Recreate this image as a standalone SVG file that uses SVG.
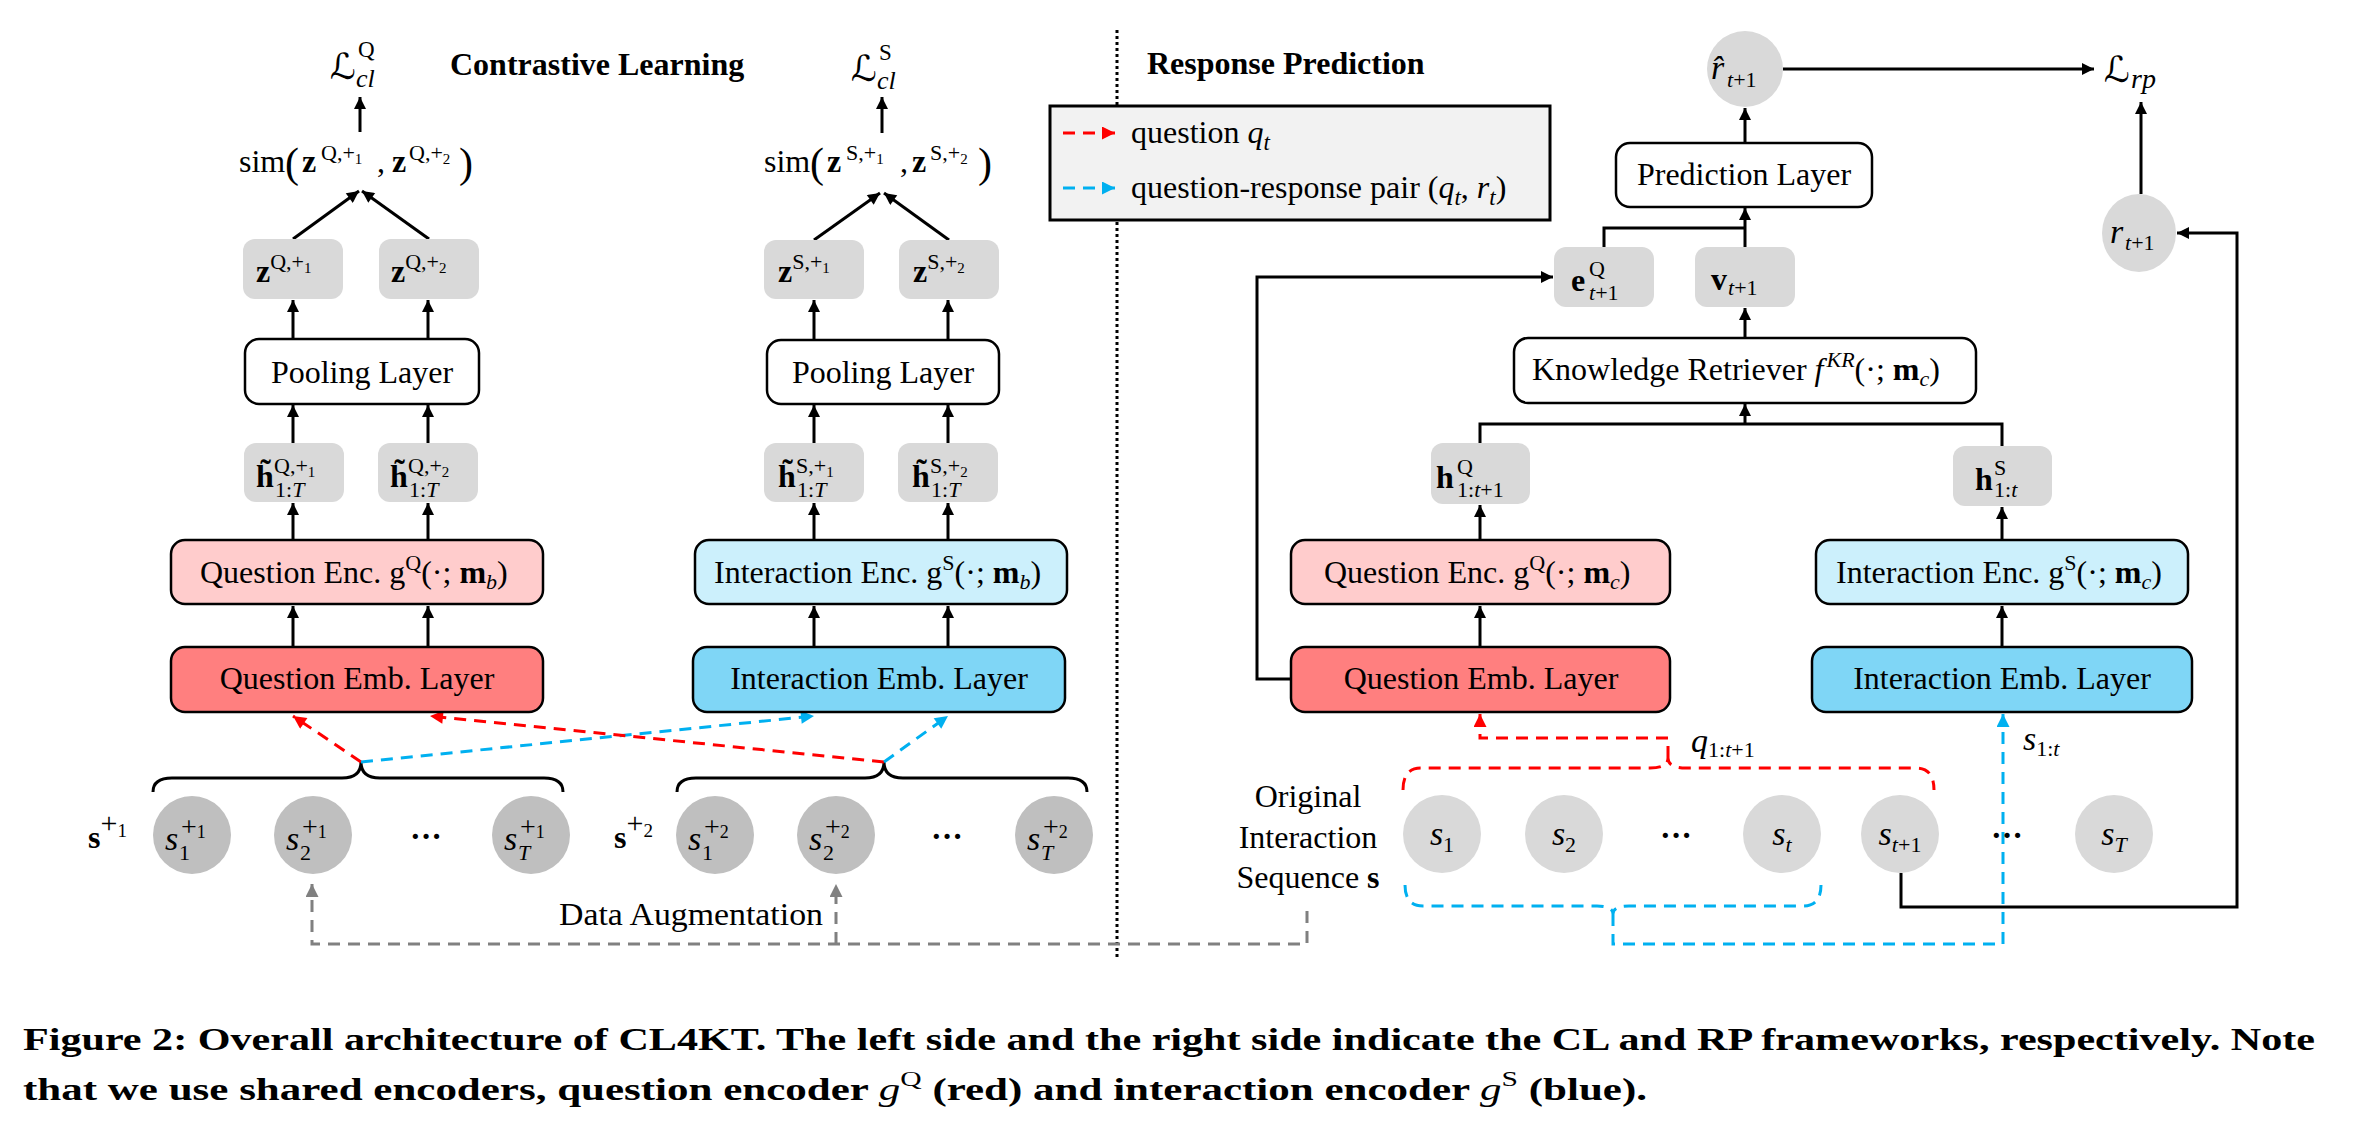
<svg xmlns="http://www.w3.org/2000/svg" width="2380" height="1144" viewBox="0 0 2380 1144">
<defs>
<style>
.t{font-family:"Liberation Serif",serif;font-size:32px;fill:#000}
.m{font-family:"Liberation Serif",serif;font-size:32px;fill:#000}
.i{font-style:italic}
.b{font-weight:bold}
.L{font-family:"DejaVu Serif","DejaVu Sans",serif;font-style:italic;font-size:36px}
.box{stroke:#000;stroke-width:2.5}
.gb{fill:#D9D9D9}
.ln{stroke:#000;stroke-width:3;fill:none}
.rd{stroke:#FF0000;stroke-width:3;fill:none;stroke-dasharray:12 8}
.bd{stroke:#00B0F0;stroke-width:3;fill:none;stroke-dasharray:12 8}
.gd{stroke:#808080;stroke-width:3;fill:none;stroke-dasharray:12 8}
.cl{fill:#BFBFBF}
.cr{fill:#D9D9D9}
</style>
<marker id="ak" viewBox="0 0 10 10" refX="10" refY="5" markerWidth="13" markerHeight="12" markerUnits="userSpaceOnUse" orient="auto"><path d="M0,0 L10,5 L0,10 z" fill="#000"/></marker>
<marker id="ar" viewBox="0 0 10 10" refX="10" refY="5" markerWidth="14" markerHeight="13" markerUnits="userSpaceOnUse" orient="auto"><path d="M0,0 L10,5 L0,10 z" fill="#FF0000"/></marker>
<marker id="ab" viewBox="0 0 10 10" refX="10" refY="5" markerWidth="14" markerHeight="13" markerUnits="userSpaceOnUse" orient="auto"><path d="M0,0 L10,5 L0,10 z" fill="#00B0F0"/></marker>
<marker id="ag" viewBox="0 0 10 10" refX="10" refY="5" markerWidth="14" markerHeight="13" markerUnits="userSpaceOnUse" orient="auto"><path d="M0,0 L10,5 L0,10 z" fill="#808080"/></marker>
</defs>
<rect width="2380" height="1144" fill="#fff"/>

<!-- separator -->
<line x1="1117" y1="30" x2="1117" y2="958" stroke="#000" stroke-width="3" stroke-dasharray="3 3"/>

<!-- headings -->
<text x="450" y="75" class="t b" font-size="37">Contrastive Learning</text>
<text x="1147" y="74" class="t b" font-size="37">Response Prediction</text>

<g id="connectors">
  <!-- CL Q column -->
  <path class="ln" d="M293,647 V606" marker-end="url(#ak)"/>
  <path class="ln" d="M428,647 V606" marker-end="url(#ak)"/>
  <path class="ln" d="M293,540 V503" marker-end="url(#ak)"/>
  <path class="ln" d="M428,540 V503" marker-end="url(#ak)"/>
  <path class="ln" d="M293,443 V405" marker-end="url(#ak)"/>
  <path class="ln" d="M428,443 V405" marker-end="url(#ak)"/>
  <path class="ln" d="M293,339 V300" marker-end="url(#ak)"/>
  <path class="ln" d="M428,339 V300" marker-end="url(#ak)"/>
  <path class="ln" d="M293,239 L359,191" marker-end="url(#ak)"/>
  <path class="ln" d="M429,239 L362,191" marker-end="url(#ak)"/>
  <path class="ln" d="M360,132 V97" marker-end="url(#ak)"/>
  <!-- CL S column -->
  <path class="ln" d="M814,647 V606" marker-end="url(#ak)"/>
  <path class="ln" d="M948,647 V606" marker-end="url(#ak)"/>
  <path class="ln" d="M814,540 V503" marker-end="url(#ak)"/>
  <path class="ln" d="M948,540 V503" marker-end="url(#ak)"/>
  <path class="ln" d="M814,443 V405" marker-end="url(#ak)"/>
  <path class="ln" d="M948,443 V405" marker-end="url(#ak)"/>
  <path class="ln" d="M814,340 V300" marker-end="url(#ak)"/>
  <path class="ln" d="M948,340 V300" marker-end="url(#ak)"/>
  <path class="ln" d="M814,240 L880,193" marker-end="url(#ak)"/>
  <path class="ln" d="M949,240 L884,193" marker-end="url(#ak)"/>
  <path class="ln" d="M882,133 V97" marker-end="url(#ak)"/>
  <!-- braces -->
  <path class="ln" d="M153,792 Q153,778 172,778 L342,778 Q361,778 361,762 Q361,778 380,778 L544,778 Q563,778 563,792"/>
  <path class="ln" d="M677,792 Q677,778 696,778 L865,778 Q884,778 884,762 Q884,778 903,778 L1068,778 Q1087,778 1087,792"/>
  <!-- CL dashed -->
  <path class="rd" d="M361,762 L293,716" marker-end="url(#ar)"/>
  <path class="bd" d="M361,762 L814,716" marker-end="url(#ab)"/>
  <path class="rd" d="M884,762 L430,716" marker-end="url(#ar)"/>
  <path class="bd" d="M884,762 L948,716" marker-end="url(#ab)"/>
  <!-- data augmentation -->
  <path class="gd" d="M1307,911 V944 H312 V884" marker-end="url(#ag)"/>
  <path class="gd" d="M836,944 V884" marker-end="url(#ag)"/>
  <!-- RP -->
  <path class="ln" d="M1480,647 V606" marker-end="url(#ak)"/>
  <path class="ln" d="M1480,540 V505" marker-end="url(#ak)"/>
  <path class="ln" d="M2002,647 V606" marker-end="url(#ak)"/>
  <path class="ln" d="M2002,540 V507" marker-end="url(#ak)"/>
  <path class="ln" d="M1480,443 V424 H2002 V446"/>
  <path class="ln" d="M1745,424 V404" marker-end="url(#ak)"/>
  <path class="ln" d="M1745,338 V308" marker-end="url(#ak)"/>
  <path class="ln" d="M1604,247 V228 H1745"/>
  <path class="ln" d="M1745,247 V208" marker-end="url(#ak)"/>
  <path class="ln" d="M1745,143 V108" marker-end="url(#ak)"/>
  <path class="ln" d="M1783,69 H2094" marker-end="url(#ak)"/>
  <path class="ln" d="M2141,194 V102" marker-end="url(#ak)"/>
  <path class="ln" d="M1901,873 V907 H2237 V233 H2177" marker-end="url(#ak)"/>
  <path class="ln" d="M1291,679 H1257 V277 H1553" marker-end="url(#ak)"/>
  <!-- RP dashed -->
  <path class="rd" d="M1403,790 Q1403,768 1421,768 L1650,768 Q1668,768 1668,758 Q1668,768 1686,768 L1916,768 Q1934,768 1934,790"/>
  <path class="rd" d="M1668,758 V738 H1480 V714" marker-end="url(#ar)"/>
  <path class="bd" d="M1405,885 Q1405,906 1423,906 L1597,906 Q1613,906 1613,914 Q1613,906 1629,906 L1803,906 Q1821,906 1821,885"/>
  <path class="bd" d="M1613,914 V944 H2003 V714" marker-end="url(#ab)"/>
</g>

<!-- legend -->
<g id="legend">
  <rect x="1050" y="106" width="500" height="114" fill="#F2F2F2" stroke="#000" stroke-width="3"/>
  <path class="rd" d="M1063,133 H1115" stroke-dasharray="10 7" marker-end="url(#ar)"/>
  <path class="bd" d="M1063,188 H1115" stroke-dasharray="10 7" marker-end="url(#ab)"/>
  <text x="1131" y="143" class="t" font-size="33">question <tspan class="i">q</tspan><tspan class="i" font-size="23" dy="7">t</tspan></text>
  <text x="1131" y="198" class="t" font-size="33">question-response pair (<tspan class="i">q</tspan><tspan class="i" font-size="23" dy="7">t</tspan><tspan dy="-7">, </tspan><tspan class="i">r</tspan><tspan class="i" font-size="23" dy="7">t</tspan><tspan dy="-7">)</tspan></text>
</g>

<!-- CL Q column nodes -->
<g id="loss-cl-q">
  <text class="m"><tspan x="330" y="79" class="L">ℒ</tspan><tspan x="356" y="87" class="i" font-size="26">cl</tspan><tspan x="358" y="57" font-size="23">Q</tspan></text>
</g>
<g id="sim-q">
  <text class="m"><tspan x="239" y="172">sim</tspan><tspan x="285" y="177" font-size="42">(</tspan><tspan x="302" y="172" class="b">z</tspan><tspan x="321" y="160" font-size="22">Q,+</tspan><tspan font-size="15" dy="4">1</tspan><tspan x="377" y="172">,</tspan><tspan x="392" y="172" class="b">z</tspan><tspan x="409" y="160" font-size="22">Q,+</tspan><tspan font-size="15" dy="4">2</tspan><tspan x="459" y="177" font-size="42">)</tspan></text>
</g>
<g id="z-q1">
  <rect x="243" y="239" width="100" height="60" rx="12" class="gb"/>
  <text x="256" y="282" class="m"><tspan class="b">z</tspan><tspan font-size="22" dy="-13">Q,+</tspan><tspan font-size="15" dy="4">1</tspan></text>
</g>
<g id="z-q2">
  <rect x="379" y="239" width="100" height="60" rx="12" class="gb"/>
  <text x="391" y="282" class="m"><tspan class="b">z</tspan><tspan font-size="22" dy="-13">Q,+</tspan><tspan font-size="15" dy="4">2</tspan></text>
</g>
<g id="pool-q">
  <rect x="245" y="339" width="234" height="65" rx="14" fill="#fff" class="box"/>
  <text x="362" y="383" class="t" text-anchor="middle">Pooling Layer</text>
</g>
<g id="h-q1">
  <rect x="244" y="443" width="100" height="59" rx="12" class="gb"/>
  <text class="m"><tspan x="256" y="487" class="b">h̃</tspan><tspan x="274" y="473" font-size="22">Q,+</tspan><tspan font-size="15" dy="4">1</tspan><tspan x="275" y="497" font-size="22">1:</tspan><tspan class="i" font-size="22">T</tspan></text>
</g>
<g id="h-q2">
  <rect x="378" y="443" width="100" height="59" rx="12" class="gb"/>
  <text class="m"><tspan x="390" y="487" class="b">h̃</tspan><tspan x="408" y="473" font-size="22">Q,+</tspan><tspan font-size="15" dy="4">2</tspan><tspan x="409" y="497" font-size="22">1:</tspan><tspan class="i" font-size="22">T</tspan></text>
</g>
<g id="qenc-cl">
  <rect x="171" y="540" width="372" height="64" rx="14" fill="#FFCCCC" class="box"/>
  <text x="200" y="583" class="t">Question Enc. g<tspan font-size="22" dy="-13">Q</tspan><tspan dy="13">(·; </tspan><tspan class="b">m</tspan><tspan class="i" font-size="22" dy="6">b</tspan><tspan dy="-6">)</tspan></text>
</g>
<g id="qemb-cl">
  <rect x="171" y="647" width="372" height="65" rx="14" fill="#FF7F7F" class="box"/>
  <text x="357" y="689" class="t" text-anchor="middle">Question Emb. Layer</text>
</g>

<!-- CL S column nodes -->
<g id="loss-cl-s">
  <text class="m"><tspan x="851" y="81" class="L">ℒ</tspan><tspan x="877" y="89" class="i" font-size="26">cl</tspan><tspan x="879" y="60" font-size="23">S</tspan></text>
</g>
<g id="sim-s">
  <text class="m"><tspan x="764" y="172">sim</tspan><tspan x="810" y="177" font-size="42">(</tspan><tspan x="827" y="172" class="b">z</tspan><tspan x="846" y="160" font-size="22">S,+</tspan><tspan font-size="15" dy="4">1</tspan><tspan x="900" y="172">,</tspan><tspan x="912" y="172" class="b">z</tspan><tspan x="930" y="160" font-size="22">S,+</tspan><tspan font-size="15" dy="4">2</tspan><tspan x="978" y="177" font-size="42">)</tspan></text>
</g>
<g id="z-s1">
  <rect x="764" y="240" width="100" height="59" rx="12" class="gb"/>
  <text x="778" y="282" class="m"><tspan class="b">z</tspan><tspan font-size="22" dy="-13">S,+</tspan><tspan font-size="15" dy="4">1</tspan></text>
</g>
<g id="z-s2">
  <rect x="899" y="240" width="100" height="59" rx="12" class="gb"/>
  <text x="913" y="282" class="m"><tspan class="b">z</tspan><tspan font-size="22" dy="-13">S,+</tspan><tspan font-size="15" dy="4">2</tspan></text>
</g>
<g id="pool-s">
  <rect x="767" y="340" width="232" height="64" rx="14" fill="#fff" class="box"/>
  <text x="883" y="383" class="t" text-anchor="middle">Pooling Layer</text>
</g>
<g id="h-s1">
  <rect x="764" y="443" width="100" height="59" rx="12" class="gb"/>
  <text class="m"><tspan x="778" y="487" class="b">h̃</tspan><tspan x="796" y="473" font-size="22">S,+</tspan><tspan font-size="15" dy="4">1</tspan><tspan x="797" y="497" font-size="22">1:</tspan><tspan class="i" font-size="22">T</tspan></text>
</g>
<g id="h-s2">
  <rect x="898" y="443" width="100" height="59" rx="12" class="gb"/>
  <text class="m"><tspan x="912" y="487" class="b">h̃</tspan><tspan x="930" y="473" font-size="22">S,+</tspan><tspan font-size="15" dy="4">2</tspan><tspan x="931" y="497" font-size="22">1:</tspan><tspan class="i" font-size="22">T</tspan></text>
</g>
<g id="ienc-cl">
  <rect x="695" y="540" width="372" height="64" rx="14" fill="#CCF0FC" class="box"/>
  <text x="714" y="583" class="t">Interaction Enc. g<tspan font-size="22" dy="-13">S</tspan><tspan dy="13">(·; </tspan><tspan class="b">m</tspan><tspan class="i" font-size="22" dy="6">b</tspan><tspan dy="-6">)</tspan></text>
</g>
<g id="iemb-cl">
  <rect x="693" y="647" width="372" height="65" rx="14" fill="#7FD6F6" class="box"/>
  <text x="879" y="689" class="t" text-anchor="middle">Interaction Emb. Layer</text>
</g>

<!-- augmented sequences -->
<g id="seq-aug1">
  <text x="88" y="848" class="t b" font-size="36">s<tspan font-weight="normal" font-size="30" dy="-15">+</tspan><tspan font-weight="normal" font-size="19" dy="4">1</tspan></text>
  <circle cx="192" cy="835" r="39" class="cl"/>
  <circle cx="313" cy="835" r="39" class="cl"/>
  <circle cx="531" cy="835" r="39" class="cl"/>
  <text class="m"><tspan x="165" y="850" class="i" font-size="34">s</tspan><tspan x="179" y="860" font-size="22">1</tspan><tspan x="181" y="836" font-size="28">+</tspan><tspan font-size="18" dy="2">1</tspan></text>
  <text class="m"><tspan x="286" y="850" class="i" font-size="34">s</tspan><tspan x="300" y="860" font-size="22">2</tspan><tspan x="302" y="836" font-size="28">+</tspan><tspan font-size="18" dy="2">1</tspan></text>
  <text class="m"><tspan x="504" y="850" class="i" font-size="34">s</tspan><tspan x="518" y="860" font-size="22" class="i">T</tspan><tspan x="520" y="836" font-size="28">+</tspan><tspan font-size="18" dy="2">1</tspan></text>
  <text x="426" y="847" class="t b" text-anchor="middle">···</text>
</g>
<g id="seq-aug2">
  <text x="614" y="848" class="t b" font-size="36">s<tspan font-weight="normal" font-size="30" dy="-15">+</tspan><tspan font-weight="normal" font-size="19" dy="4">2</tspan></text>
  <circle cx="715" cy="835" r="39" class="cl"/>
  <circle cx="836" cy="835" r="39" class="cl"/>
  <circle cx="1054" cy="835" r="39" class="cl"/>
  <text class="m"><tspan x="688" y="850" class="i" font-size="34">s</tspan><tspan x="702" y="860" font-size="22">1</tspan><tspan x="704" y="836" font-size="28">+</tspan><tspan font-size="18" dy="2">2</tspan></text>
  <text class="m"><tspan x="809" y="850" class="i" font-size="34">s</tspan><tspan x="823" y="860" font-size="22">2</tspan><tspan x="825" y="836" font-size="28">+</tspan><tspan font-size="18" dy="2">2</tspan></text>
  <text class="m"><tspan x="1027" y="850" class="i" font-size="34">s</tspan><tspan x="1041" y="860" font-size="22" class="i">T</tspan><tspan x="1043" y="836" font-size="28">+</tspan><tspan font-size="18" dy="2">2</tspan></text>
  <text x="947" y="847" class="t b" text-anchor="middle">···</text>
</g>
<g id="data-aug">
  <text x="559" y="925" class="t" textLength="264" lengthAdjust="spacingAndGlyphs">Data Augmentation</text>
</g>

<!-- RP nodes -->
<g id="orig-seq">
  <text x="1308" y="807" class="t" text-anchor="middle">Original</text>
  <text x="1308" y="848" class="t" text-anchor="middle">Interaction</text>
  <text x="1308" y="888" class="t" text-anchor="middle">Sequence <tspan class="b">s</tspan></text>
  <circle cx="1442" cy="834" r="39" class="cr"/>
  <circle cx="1564" cy="834" r="39" class="cr"/>
  <circle cx="1782" cy="834" r="39" class="cr"/>
  <circle cx="1900" cy="834" r="39" class="cr"/>
  <circle cx="2114" cy="834" r="39" class="cr"/>
  <text x="1442" y="845" class="m" text-anchor="middle"><tspan class="i" font-size="34">s</tspan><tspan font-size="22" dy="7">1</tspan></text>
  <text x="1564" y="845" class="m" text-anchor="middle"><tspan class="i" font-size="34">s</tspan><tspan font-size="22" dy="7">2</tspan></text>
  <text x="1782" y="845" class="m" text-anchor="middle"><tspan class="i" font-size="34">s</tspan><tspan font-size="22" dy="7" class="i">t</tspan></text>
  <text x="1900" y="845" class="m" text-anchor="middle"><tspan class="i" font-size="34">s</tspan><tspan font-size="22" dy="7" class="i">t</tspan><tspan font-size="22">+1</tspan></text>
  <text x="2114" y="845" class="m" text-anchor="middle"><tspan class="i" font-size="34">s</tspan><tspan font-size="22" dy="7" class="i">T</tspan></text>
  <text x="1676" y="846" class="t b" text-anchor="middle">···</text>
  <text x="2007" y="846" class="t b" text-anchor="middle">···</text>
</g>
<g id="q-label">
  <text x="1691" y="752" class="m"><tspan class="i" font-size="34">q</tspan><tspan font-size="22" dy="5">1:</tspan><tspan font-size="22" class="i">t</tspan><tspan font-size="22">+1</tspan></text>
</g>
<g id="s-label">
  <text x="2023" y="750" class="m"><tspan class="i" font-size="34">s</tspan><tspan font-size="22" dy="6">1:</tspan><tspan font-size="22" class="i">t</tspan></text>
</g>
<g id="qemb-rp">
  <rect x="1291" y="647" width="379" height="65" rx="14" fill="#FF7F7F" class="box"/>
  <text x="1481" y="689" class="t" text-anchor="middle">Question Emb. Layer</text>
</g>
<g id="qenc-rp">
  <rect x="1291" y="540" width="379" height="64" rx="14" fill="#FFCCCC" class="box"/>
  <text x="1324" y="583" class="t">Question Enc. g<tspan font-size="22" dy="-13">Q</tspan><tspan dy="13">(·; </tspan><tspan class="b">m</tspan><tspan class="i" font-size="22" dy="6">c</tspan><tspan dy="-6">)</tspan></text>
</g>
<g id="iemb-rp">
  <rect x="1812" y="647" width="380" height="65" rx="14" fill="#7FD6F6" class="box"/>
  <text x="2002" y="689" class="t" text-anchor="middle">Interaction Emb. Layer</text>
</g>
<g id="ienc-rp">
  <rect x="1816" y="540" width="372" height="64" rx="14" fill="#CCF0FC" class="box"/>
  <text x="1836" y="583" class="t">Interaction Enc. g<tspan font-size="22" dy="-13">S</tspan><tspan dy="13">(·; </tspan><tspan class="b">m</tspan><tspan class="i" font-size="22" dy="6">c</tspan><tspan dy="-6">)</tspan></text>
</g>
<g id="hq-rp">
  <rect x="1431" y="443" width="99" height="61" rx="12" class="gb"/>
  <text class="m"><tspan x="1436" y="488" class="b">h</tspan><tspan x="1457" y="474" font-size="22">Q</tspan><tspan x="1457" y="497" font-size="22">1:</tspan><tspan font-size="22" class="i">t</tspan><tspan font-size="22">+1</tspan></text>
</g>
<g id="hs-rp">
  <rect x="1953" y="446" width="99" height="60" rx="12" class="gb"/>
  <text class="m"><tspan x="1975" y="490" class="b">h</tspan><tspan x="1994" y="475" font-size="22">S</tspan><tspan x="1994" y="497" font-size="22">1:</tspan><tspan font-size="22" class="i">t</tspan></text>
</g>
<g id="kr">
  <rect x="1514" y="338" width="462" height="65" rx="14" fill="#fff" class="box"/>
  <text x="1532" y="380" class="t">Knowledge Retriever <tspan class="i">f</tspan><tspan class="i" font-size="22" dy="-13" dx="3">KR</tspan><tspan dy="13">(·; </tspan><tspan class="b">m</tspan><tspan class="i" font-size="22" dy="6">c</tspan><tspan dy="-6">)</tspan></text>
</g>
<g id="e-box">
  <rect x="1554" y="247" width="100" height="60" rx="12" class="gb"/>
  <text class="m"><tspan x="1571" y="291" class="b">e</tspan><tspan x="1589" y="276" font-size="22">Q</tspan><tspan x="1589" y="300" font-size="22" class="i">t</tspan><tspan font-size="22">+1</tspan></text>
</g>
<g id="v-box">
  <rect x="1695" y="247" width="100" height="60" rx="12" class="gb"/>
  <text class="m"><tspan x="1711" y="290" class="b">v</tspan><tspan x="1728" y="295" font-size="22" class="i">t</tspan><tspan font-size="22">+1</tspan></text>
</g>
<g id="pred">
  <rect x="1616" y="143" width="256" height="64" rx="14" fill="#fff" class="box"/>
  <text x="1744" y="185" class="t" text-anchor="middle">Prediction Layer</text>
</g>
<g id="rhat">
  <circle cx="1745" cy="69" r="38" class="cr"/>
  <text class="m"><tspan x="1711" y="79" class="i" font-size="34">r̂</tspan><tspan x="1727" y="87" font-size="22" class="i">t</tspan><tspan font-size="22">+1</tspan></text>
</g>
<g id="r-true">
  <ellipse cx="2139" cy="233" rx="37" ry="39" class="cr"/>
  <text class="m"><tspan x="2110" y="243" class="i" font-size="34">r</tspan><tspan x="2125" y="250" font-size="22" class="i">t</tspan><tspan font-size="22">+1</tspan></text>
</g>
<g id="loss-rp">
  <text class="m"><tspan x="2104" y="82" class="L">ℒ</tspan><tspan x="2131" y="88" class="i" font-size="28">rp</tspan></text>
</g>

<!-- caption -->
<g id="caption">
  <text x="23" y="1050" class="t b" font-size="34" textLength="2292" lengthAdjust="spacingAndGlyphs">Figure 2: Overall architecture of CL4KT. The left side and the right side indicate the CL and RP frameworks, respectively. Note</text>
  <text x="23" y="1100" class="t b" font-size="34" textLength="1624" lengthAdjust="spacingAndGlyphs">that we use shared encoders, question encoder <tspan class="i" font-weight="normal">g</tspan><tspan font-size="22" font-weight="normal" dy="-14">Q</tspan><tspan dy="14"> (red) and interaction encoder </tspan><tspan class="i" font-weight="normal">g</tspan><tspan font-size="22" font-weight="normal" dy="-14">S</tspan><tspan dy="14"> (blue).</tspan></text>
</g>
</svg>
